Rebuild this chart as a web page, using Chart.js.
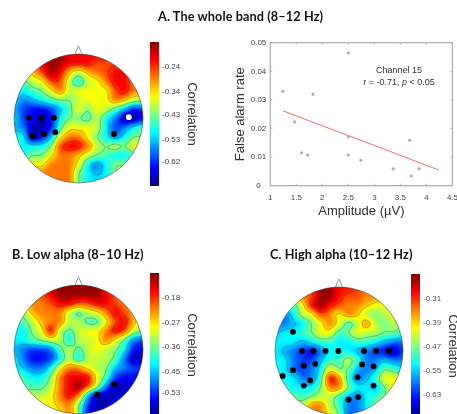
<!DOCTYPE html>
<html><head><meta charset="utf-8">
<script src="https://cdn.jsdelivr.net/npm/chart.js@4"></script>
<style>
html,body{margin:0;padding:0;width:457px;height:414px;overflow:hidden;background:#fff}
#w{position:absolute;left:0;top:0;width:457px;height:414px;overflow:hidden;filter:blur(.7px)}
canvas{position:absolute}
.t{position:absolute;white-space:nowrap;font-family:Lato,sans-serif;color:#111}
.h{font-weight:700;font-size:12.7px;letter-spacing:.1px}
.n{font-family:"Liberation Sans",sans-serif;font-size:9px;color:#333;transform:translateX(-50%)}
</style></head><body><div id="w">
<div class="t h" style="left:158px;top:8px">A. The whole band (8–12 Hz)</div>
<div class="t h" style="left:12px;top:246px">B. Low alpha (8–10 Hz)</div>
<div class="t h" style="left:270px;top:246px">C. High alpha (10–12 Hz)</div>
<div class="t n" style="left:399px;top:65px">Channel 15</div>
<div class="t n" style="left:399px;top:77px">r = -0.71, <i>p</i> &lt; 0.05</div>
</div>
<script>
const gridA=[
[-.28,-.28,-.25,-.21,-.16,-.16,-.21,-.21,-.21,-.21,-.21,-.25,-.28,-.28,-.28],
[-.28,-.28,-.28,-.21,-.16,-.16,-.21,-.21,-.21,-.25,-.25,-.25,-.28,-.28,-.28],
[-.36,-.36,-.32,-.25,-.16,-.21,-.32,-.39,-.32,-.28,-.25,-.21,-.21,-.28,-.28],
[-.46,-.46,-.39,-.36,-.25,-.25,-.39,-.50,-.39,-.36,-.28,-.21,-.21,-.28,-.28],
[-.50,-.50,-.46,-.43,-.36,-.28,-.39,-.36,-.36,-.36,-.36,-.25,-.21,-.28,-.28],
[-.50,-.57,-.54,-.50,-.46,-.43,-.43,-.39,-.36,-.36,-.36,-.28,-.32,-.39,-.39],
[-.54,-.61,-.64,-.64,-.61,-.54,-.46,-.36,-.43,-.36,-.39,-.46,-.54,-.64,-.61],
[-.50,-.61,-.64,-.69,-.64,-.50,-.43,-.43,-.46,-.39,-.50,-.57,-.69,-.69,-.64],
[-.54,-.57,-.69,-.69,-.64,-.46,-.36,-.36,-.36,-.39,-.50,-.61,-.57,-.50,-.46],
[-.50,-.50,-.69,-.64,-.54,-.36,-.28,-.28,-.36,-.43,-.50,-.57,-.50,-.43,-.43],
[-.50,-.50,-.50,-.50,-.43,-.25,-.21,-.21,-.28,-.39,-.43,-.39,-.43,-.36,-.36],
[-.50,-.50,-.43,-.43,-.36,-.28,-.28,-.32,-.39,-.43,-.46,-.50,-.50,-.46,-.36],
[-.36,-.36,-.36,-.36,-.28,-.28,-.28,-.36,-.50,-.57,-.50,-.43,-.43,-.43,-.43],
[-.28,-.28,-.28,-.28,-.28,-.28,-.28,-.43,-.50,-.54,-.50,-.43,-.43,-.43,-.43],
[-.28,-.28,-.28,-.28,-.28,-.28,-.28,-.43,-.50,-.50,-.50,-.43,-.43,-.43,-.43]];
const gridB=[
[-.15,-.15,-.15,-.15,-.10,-.10,-.10,-.10,-.10,-.10,-.15,-.15,-.22,-.22,-.22],
[-.22,-.22,-.22,-.19,-.15,-.10,-.10,-.10,-.10,-.10,-.15,-.19,-.22,-.22,-.22],
[-.29,-.29,-.22,-.22,-.19,-.15,-.15,-.19,-.19,-.15,-.15,-.19,-.22,-.22,-.22],
[-.35,-.35,-.25,-.22,-.22,-.22,-.32,-.38,-.32,-.29,-.22,-.15,-.19,-.25,-.29],
[-.38,-.38,-.32,-.25,-.22,-.22,-.32,-.32,-.38,-.38,-.29,-.19,-.15,-.25,-.32],
[-.42,-.42,-.35,-.29,-.15,-.32,-.38,-.32,-.29,-.29,-.22,-.15,-.19,-.32,-.35],
[-.42,-.42,-.38,-.35,-.32,-.32,-.42,-.32,-.32,-.29,-.22,-.29,-.38,-.49,-.52],
[-.45,-.49,-.52,-.52,-.49,-.38,-.32,-.38,-.32,-.29,-.32,-.35,-.42,-.55,-.55],
[-.42,-.49,-.55,-.55,-.52,-.42,-.32,-.42,-.32,-.32,-.32,-.38,-.49,-.59,-.59],
[-.42,-.45,-.49,-.49,-.42,-.29,-.22,-.22,-.29,-.32,-.35,-.45,-.49,-.52,-.52],
[-.38,-.38,-.42,-.42,-.35,-.22,-.15,-.15,-.15,-.29,-.38,-.52,-.55,-.55,-.55],
[-.38,-.38,-.38,-.38,-.32,-.22,-.15,-.10,-.19,-.32,-.49,-.59,-.59,-.55,-.55],
[-.32,-.32,-.32,-.32,-.29,-.22,-.15,-.22,-.45,-.59,-.59,-.59,-.55,-.55,-.55],
[-.29,-.29,-.29,-.29,-.29,-.25,-.22,-.35,-.52,-.59,-.59,-.55,-.55,-.55,-.55],
[-.29,-.29,-.29,-.29,-.29,-.29,-.22,-.35,-.55,-.59,-.59,-.55,-.55,-.55,-.55]];
const gridC=[
[-.44,-.44,-.44,-.35,-.32,-.24,-.24,-.29,-.29,-.32,-.35,-.35,-.38,-.41,-.41],
[-.44,-.44,-.41,-.35,-.32,-.24,-.24,-.29,-.32,-.32,-.35,-.35,-.38,-.41,-.41],
[-.47,-.47,-.50,-.41,-.29,-.24,-.29,-.32,-.35,-.35,-.38,-.41,-.41,-.44,-.44],
[-.53,-.59,-.53,-.44,-.41,-.32,-.35,-.41,-.35,-.38,-.44,-.47,-.44,-.41,-.44],
[-.59,-.59,-.56,-.53,-.47,-.41,-.35,-.41,-.50,-.44,-.35,-.44,-.47,-.44,-.47],
[-.56,-.53,-.53,-.50,-.47,-.41,-.41,-.50,-.47,-.41,-.44,-.44,-.47,-.47,-.50],
[-.53,-.53,-.53,-.56,-.53,-.50,-.50,-.53,-.53,-.50,-.50,-.53,-.56,-.59,-.59],
[-.53,-.56,-.59,-.62,-.65,-.59,-.53,-.53,-.53,-.56,-.59,-.62,-.65,-.68,-.62],
[-.53,-.53,-.59,-.62,-.62,-.56,-.50,-.50,-.44,-.50,-.59,-.59,-.56,-.59,-.59],
[-.53,-.53,-.59,-.62,-.59,-.53,-.41,-.47,-.47,-.56,-.59,-.56,-.47,-.50,-.53],
[-.53,-.53,-.53,-.59,-.59,-.50,-.29,-.35,-.50,-.59,-.56,-.50,-.41,-.41,-.41],
[-.50,-.50,-.53,-.53,-.53,-.47,-.35,-.35,-.47,-.53,-.53,-.56,-.47,-.41,-.41],
[-.47,-.47,-.47,-.50,-.47,-.44,-.44,-.50,-.56,-.59,-.53,-.50,-.47,-.47,-.47],
[-.44,-.44,-.44,-.44,-.35,-.35,-.44,-.50,-.59,-.59,-.53,-.47,-.47,-.47,-.47],
[-.44,-.44,-.44,-.44,-.38,-.35,-.41,-.47,-.59,-.59,-.53,-.47,-.47,-.47,-.47]];
const ticksA=[-.24,-.34,-.43,-.53,-.62], rangeA=[-.715,-.14];
const ticksB=[-.18,-.27,-.36,-.45,-.53], rangeB=[-.618,-.088];
const ticksC=[-.31,-.39,-.47,-.55,-.63], rangeC=[-.707,-.227];
const dotsA=[[-.77,.01],[-.58,.01],[-.38,.01],[-.71,-.27],[-.53,-.24],[-.36,-.21],[.55,-.24]];
const whiteA=[[.78,.02]];
const dotsB=[[.55,-.54],[.29,-.70]];
const dotsC=[[-.72,.30],[-.58,0],[-.40,0],[-.21,0],[-.01,0],[.39,0],[.58,0],[.78,0],[.36,-.21],[.54,-.24],[.29,-.41],[.54,-.54],[.30,-.72],[.15,-.76],[-.55,-.23],[-.37,-.20],[-.72,-.30],[-.88,-.39],[-.45,-.46],[-.55,-.54]];
const amplitude=[1.24,1.47,1.6,1.72,1.82,2.5,2.5,2.5,2.74,3.36,3.68,3.71,3.86];
const falseAlarm=[.033,.0223,.0115,.0107,.032,.0464,.0171,.0107,.0089,.0059,.0159,.0034,.0059];
const fitX=[1.24,4.24], fitY=[.0262,.0055];

Chart.defaults.animation=false;
Chart.defaults.font.family='"Liberation Sans",Arial,sans-serif';
const wrap=document.getElementById('w');
function mk(l,t,w,h){const c=document.createElement('canvas');c.width=w;c.height=h;c.style.left=l+'px';c.style.top=t+'px';wrap.appendChild(c);return c;}
const jetStops=[[0,[0,0,128]],[.125,[0,0,255]],[.375,[0,255,255]],[.5,[128,255,128]],[.625,[255,255,0]],[.875,[255,0,0]],[1,[128,0,0]]];
function jet(t){t=Math.max(0,Math.min(1,t));for(let i=1;i<jetStops.length;i++){if(t<=jetStops[i][0]){const a=jetStops[i-1],b=jetStops[i],f=(t-a[0])/(b[0]-a[0]);return a[1].map((v,k)=>v+(b[1][k]-v)*f);}}return jetStops[6][1];}
// paint-time smoothing of the read grid: part Catmull-Rom, part B-spline
function ker(p0,p1,p2,p3,f){const f2=f*f,f3=f2*f;
 const b=((1-f)*(1-f)*(1-f)*p0+(3*f3-6*f2+4)*p1+(-3*f3+3*f2+3*f+1)*p2+f3*p3)/6;
 const c=.5*(2*p1+(p2-p0)*f+(2*p0-5*p1+4*p2-p3)*f2+(3*p1-p0-3*p2+p3)*f3);
 return .35*b+.65*c;}
function field(g,x,y){
 const n=g.length-1,u=(x+1)/2*n,v=(1-y)/2*n,i=Math.min(n-1,Math.max(0,Math.floor(u))),j=Math.min(n-1,Math.max(0,Math.floor(v))),fu=u-i,fv=v-j;
 const q=(a)=>Math.max(0,Math.min(n,a)),r=[];
 for(let b=-1;b<=2;b++){const R=g[q(j+b)];r.push(ker(R[q(i-1)],R[q(i)],R[q(i+1)],R[q(i+2)],fu));}
 return ker(r[0],r[1],r[2],r[3],fv);
}
const topoPlugin={id:'topo',beforeDatasetsDraw(ch,a,o){
 const {ctx,chartArea:A,scales:{x:X,y:Y}}=ch,w=Math.round(A.width),h=Math.round(A.height);
 const off=document.createElement('canvas');off.width=w;off.height=h;const oc=off.getContext('2d'),im=oc.createImageData(w,h);
 for(let py=0;py<h;py++){for(let px=0;px<w;px++){
  const v=field(o.grid,X.getValueForPixel(A.left+px+.5),Y.getValueForPixel(A.top+py+.5));
  const c=jet((v-o.range[0])/(o.range[1]-o.range[0])),k=(py*w+px)*4;
  im.data[k]=c[0];im.data[k+1]=c[1];im.data[k+2]=c[2];im.data[k+3]=255;}}
 oc.putImageData(im,0,0);
 const cx=X.getPixelForValue(0),cy=Y.getPixelForValue(0),rad=(X.getPixelForValue(1)-cx);
 ctx.save();
 ctx.beginPath();ctx.moveTo(cx-4,cy-rad+1);ctx.lineTo(cx,cy-rad-8);ctx.lineTo(cx+4,cy-rad+1);ctx.closePath();
 ctx.fillStyle='#fff';ctx.fill();ctx.strokeStyle='#999';ctx.lineWidth=1;ctx.stroke();
 ctx.beginPath();ctx.arc(cx,cy,rad,0,Math.PI*2);ctx.save();ctx.clip();
 ctx.drawImage(off,A.left,A.top,A.width,A.height);
 ctx.strokeStyle='rgba(30,60,30,.5)';ctx.lineWidth=.6;ctx.beginPath();
 const s=2;
 for(const L of o.levels){
  for(let py=0;py<h;py+=s){for(let px=0;px<w;px+=s){
   const P=[[px,py],[px+s,py],[px+s,py+s],[px,py+s]],V=P.map(p=>field(o.grid,X.getValueForPixel(A.left+p[0]),Y.getValueForPixel(A.top+p[1]))-L),pts=[];
   for(let e=0;e<4;e++){const f=(e+1)%4;if((V[e]<0)!==(V[f]<0)){const m=V[e]/(V[e]-V[f]);pts.push([P[e][0]+(P[f][0]-P[e][0])*m,P[e][1]+(P[f][1]-P[e][1])*m]);}}
   if(pts.length>=2){ctx.moveTo(A.left+pts[0][0],A.top+pts[0][1]);ctx.lineTo(A.left+pts[1][0],A.top+pts[1][1]);}
   if(pts.length===4){ctx.moveTo(A.left+pts[2][0],A.top+pts[2][1]);ctx.lineTo(A.left+pts[3][0],A.top+pts[3][1]);}
  }}
 }
 ctx.stroke();ctx.restore();
 ctx.beginPath();ctx.arc(cx,cy,rad,0,Math.PI*2);ctx.strokeStyle='rgba(60,60,60,.7)';ctx.lineWidth=.8;ctx.stroke();
 ctx.restore();
}};
function pts(a){return a.map(p=>({x:p[0],y:p[1]}));}
function topo(cx,cy,r,grid,range,levels,dots,white){
 const pad=12,c=mk(cx-r-pad,cy-r-pad,2*r+2*pad,2*r+2*pad);
 const ds=[{data:pts(dots),pointRadius:2.9,pointBackgroundColor:'#000',pointBorderWidth:0}];
 if(white)ds.push({data:pts(white),pointRadius:2.9,pointBackgroundColor:'#fff',pointBorderWidth:0});
 new Chart(c,{type:'scatter',data:{datasets:ds},plugins:[topoPlugin],options:{responsive:false,layout:{padding:pad},
  scales:{x:{display:false,min:-1,max:1},y:{display:false,min:-1,max:1}},
  plugins:{legend:{display:false},tooltip:{enabled:false},topo:{grid,range,levels}}}});
}
function cbar(l,top,w,hgt,ticks,range,tickColor){
 const pad=8,c=mk(l,top-pad,w,hgt+2*pad);
 new Chart(c,{type:'bar',data:{labels:['c'],datasets:[{data:[range],barPercentage:1,categoryPercentage:1,
   backgroundColor(ctx){const A=ctx.chart.chartArea;if(!A)return '#0f0';const g=ctx.chart.ctx.createLinearGradient(0,A.bottom,0,A.top);jetStops.forEach(s=>g.addColorStop(s[0],`rgb(${s[1].join(',')})`));return g;}}]},
  options:{responsive:false,layout:{padding:{top:pad,bottom:pad,left:0,right:0}},
  scales:{x:{display:false},y:{position:'right',min:range[0],max:range[1],
    afterFit(s){s.width=w-9;},afterBuildTicks(s){s.ticks=ticks.map(v=>({value:v}));},
    grid:{display:false,drawTicks:false},border:{display:false},
    ticks:{padding:3,color:tickColor,font:{size:8},callback:v=>v.toFixed(2),autoSkip:false,maxRotation:0},
    title:{display:true,text:'Correlation',color:'#333',font:{size:13},padding:0}}},
  plugins:{legend:{display:false},tooltip:{enabled:false}}}});
}
topo(78,118.5,64.5,gridA,rangeA,ticksA,dotsA,whiteA);
topo(78,349.5,64.5,gridB,rangeB,ticksB,dotsB);
topo(339,351,64,gridC,rangeC,ticksC,dotsC);
cbar(150,42,49,144,ticksA,rangeA,'#444');
cbar(150,273,49,144,ticksB,rangeB,'#444');
cbar(411,274,49,144,ticksC,rangeC,'#555');

const framePlugin={id:'frame',afterDatasetsDraw(ch){
 const {ctx,chartArea:A,scales:{x:X,y:Y}}=ch;ctx.save();ctx.strokeStyle='#aaa';ctx.lineWidth=1.2;ctx.strokeRect(A.left,A.top,A.width,A.height);ctx.lineWidth=.8;ctx.beginPath();
 X.ticks.forEach(t=>{const p=X.getPixelForValue(t.value);ctx.moveTo(p,A.top);ctx.lineTo(p,A.top+2);ctx.moveTo(p,A.bottom);ctx.lineTo(p,A.bottom-2);});
 Y.ticks.forEach(t=>{const p=Y.getPixelForValue(t.value);ctx.moveTo(A.left,p);ctx.lineTo(A.left+2,p);ctx.moveTo(A.right,p);ctx.lineTo(A.right-2,p);});
 ctx.stroke();ctx.restore();
}};
const sc=mk(227,30,238,195);
new Chart(sc,{type:'scatter',data:{datasets:[
 {data:amplitude.map((x,i)=>({x,y:falseAlarm[i]})),pointRadius:1.6,pointBackgroundColor:'#9fb0c0',pointBorderWidth:0},
 {data:fitX.map((x,i)=>({x,y:fitY[i]})),showLine:true,borderColor:'#ec8080',borderWidth:1.2,pointRadius:0}
]},plugins:[framePlugin],options:{responsive:false,layout:{padding:{top:12.7,right:0,left:0,bottom:0}},
 scales:{
  x:{type:'linear',min:1,max:4.5,afterBuildTicks(s){s.ticks=[1,1.5,2,2.5,3,3.5,4,4.5].map(v=>({value:v}));},afterFit(s){s.height=39.3;},grid:{display:false,drawTicks:false},border:{display:false},
   ticks:{color:'#444',font:{size:8},padding:7,maxRotation:0,autoSkip:false,callback:v=>String(v)},
   title:{display:true,text:'Amplitude (µV)',color:'#333',font:{size:13},padding:{top:0,bottom:6}}},
  y:{min:0,max:.05,afterBuildTicks(s){s.ticks=[0,.01,.02,.03,.04,.05].map(v=>({value:v}));},afterFit(s){s.width=43.3;},grid:{display:false,drawTicks:false},border:{display:false},
   ticks:{color:'#444',font:{size:8},padding:4,crossAlign:'center',autoSkip:false,callback:v=>String(v)},
   title:{display:true,text:'False alarm rate',color:'#333',font:{size:13},padding:{top:5.5,bottom:0}}}},
 plugins:{legend:{display:false},tooltip:{enabled:false}}}});
</script></body></html>
